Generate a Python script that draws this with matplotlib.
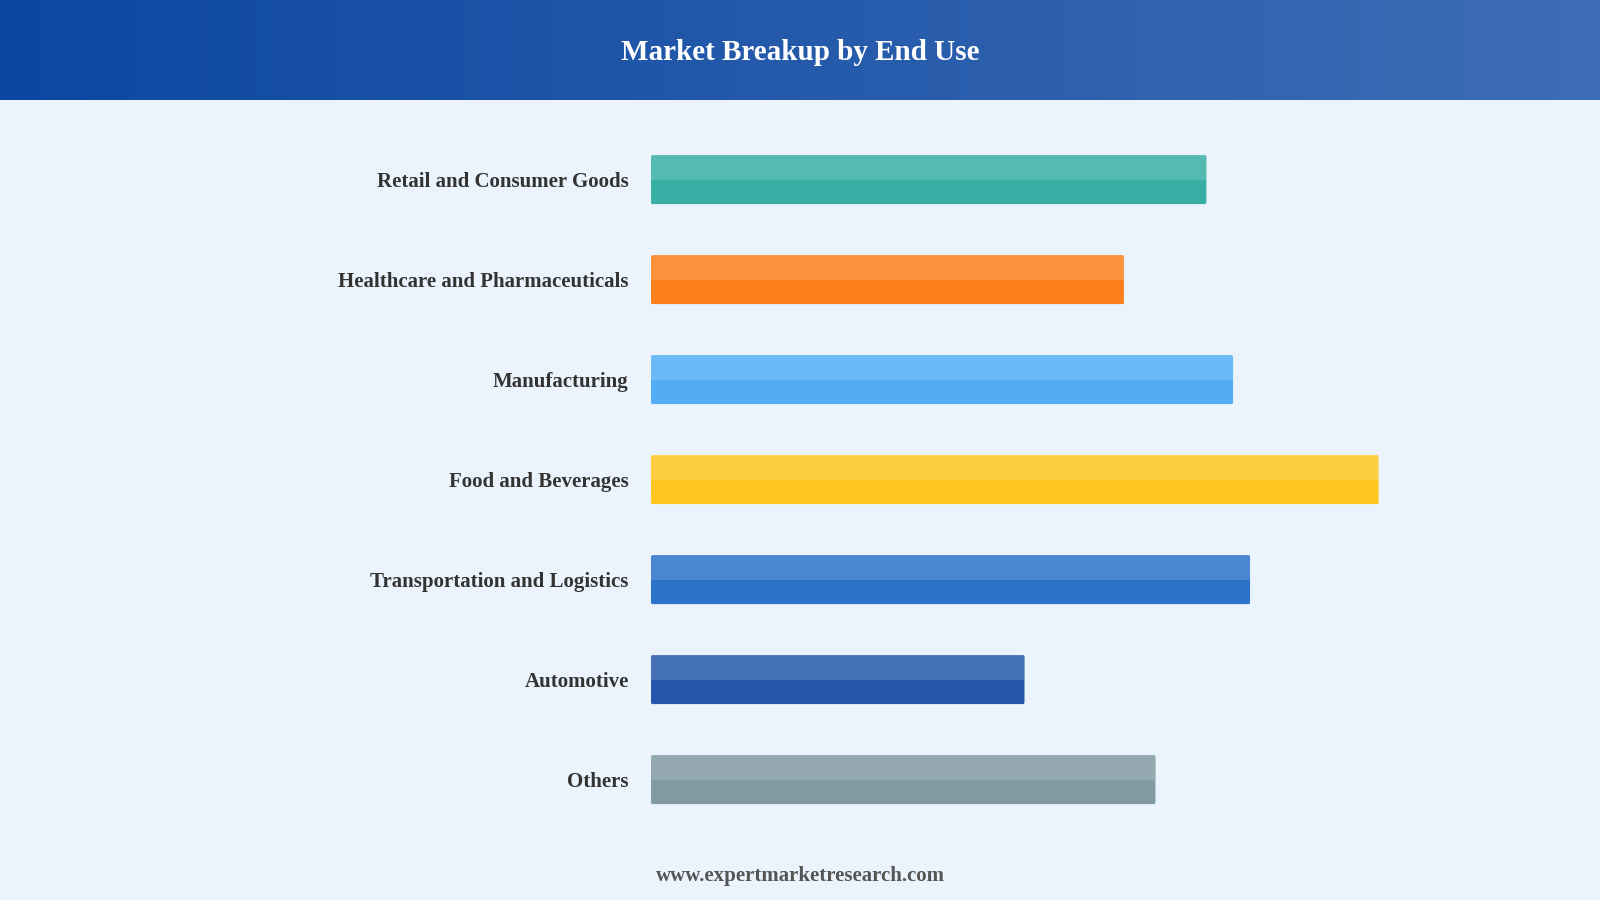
import matplotlib
matplotlib.use("Agg")
import matplotlib.pyplot as plt
import numpy as np
from matplotlib.patches import FancyBboxPatch

categories = ["Retail and Consumer Goods", "Healthcare and Pharmaceuticals", "Manufacturing",
              "Food and Beverages", "Transportation and Logistics", "Automotive", "Others"]
values = [22.9, 19.5, 24.0, 30.0, 24.7, 15.4, 20.8]
colors = ["#38AFA5", "#FF7F1A", "#52ADF5", "#FDC71F", "#2B73C8", "#2457AC", "#829AA3"]

fig = plt.figure(figsize=(16, 9), dpi=100)
fig.patch.set_facecolor("#EBF3FC")

# header gradient
hax = fig.add_axes([0, 1 - 98/882, 1, 98/882])
grad = np.linspace(0, 1, 256).reshape(1, -1)
from matplotlib.colors import LinearSegmentedColormap
cmap = LinearSegmentedColormap.from_list("h", ["#0D47A1", "#3D6DB5"])
hax.imshow(grad, aspect="auto", cmap=cmap, extent=[0, 1, 0, 1])
hax.set_axis_off()
hax.text(0.5, 0.47, "Market Breakup by End Use", color="white", ha="center", va="center",
         fontsize=21, fontweight="bold", family="Liberation Serif")

ax = fig.add_axes([638/1568, 1 - 813/882, 0.5, (813-127)/882])
ax.set_facecolor("none")
xmax = 30 * 0.5 * 1568 / 713
ax.set_xlim(0, xmax)
ax.set_ylim(6.5, -0.5)
h = 0.49
for i, (v, c) in enumerate(zip(values, colors)):
    p = FancyBboxPatch((0, i - h/2), v, h, boxstyle="round,pad=0,rounding_size=0.05",
                       mutation_aspect=1/ (xmax/7) * 2, facecolor=c, edgecolor="none")
    ax.add_patch(p)
    ax.barh(i - h/4, v, height=h/2, color="white", alpha=0.15, edgecolor="none")
ax.set_yticks(range(len(categories)))
ax.set_yticklabels(categories, fontsize=15, fontweight="bold", family="Liberation Serif", color="#333333")
ax.tick_params(axis="y", length=0, pad=16)
ax.set_xticks([])
for s in ax.spines.values():
    s.set_visible(False)

fig.text(0.5, 1 - 858/882, "www.expertmarketresearch.com", ha="center", va="center",
         fontsize=15, fontweight="bold", family="Liberation Serif", color="#555555")

fig.savefig("out.png", dpi=100, facecolor=fig.get_facecolor())
